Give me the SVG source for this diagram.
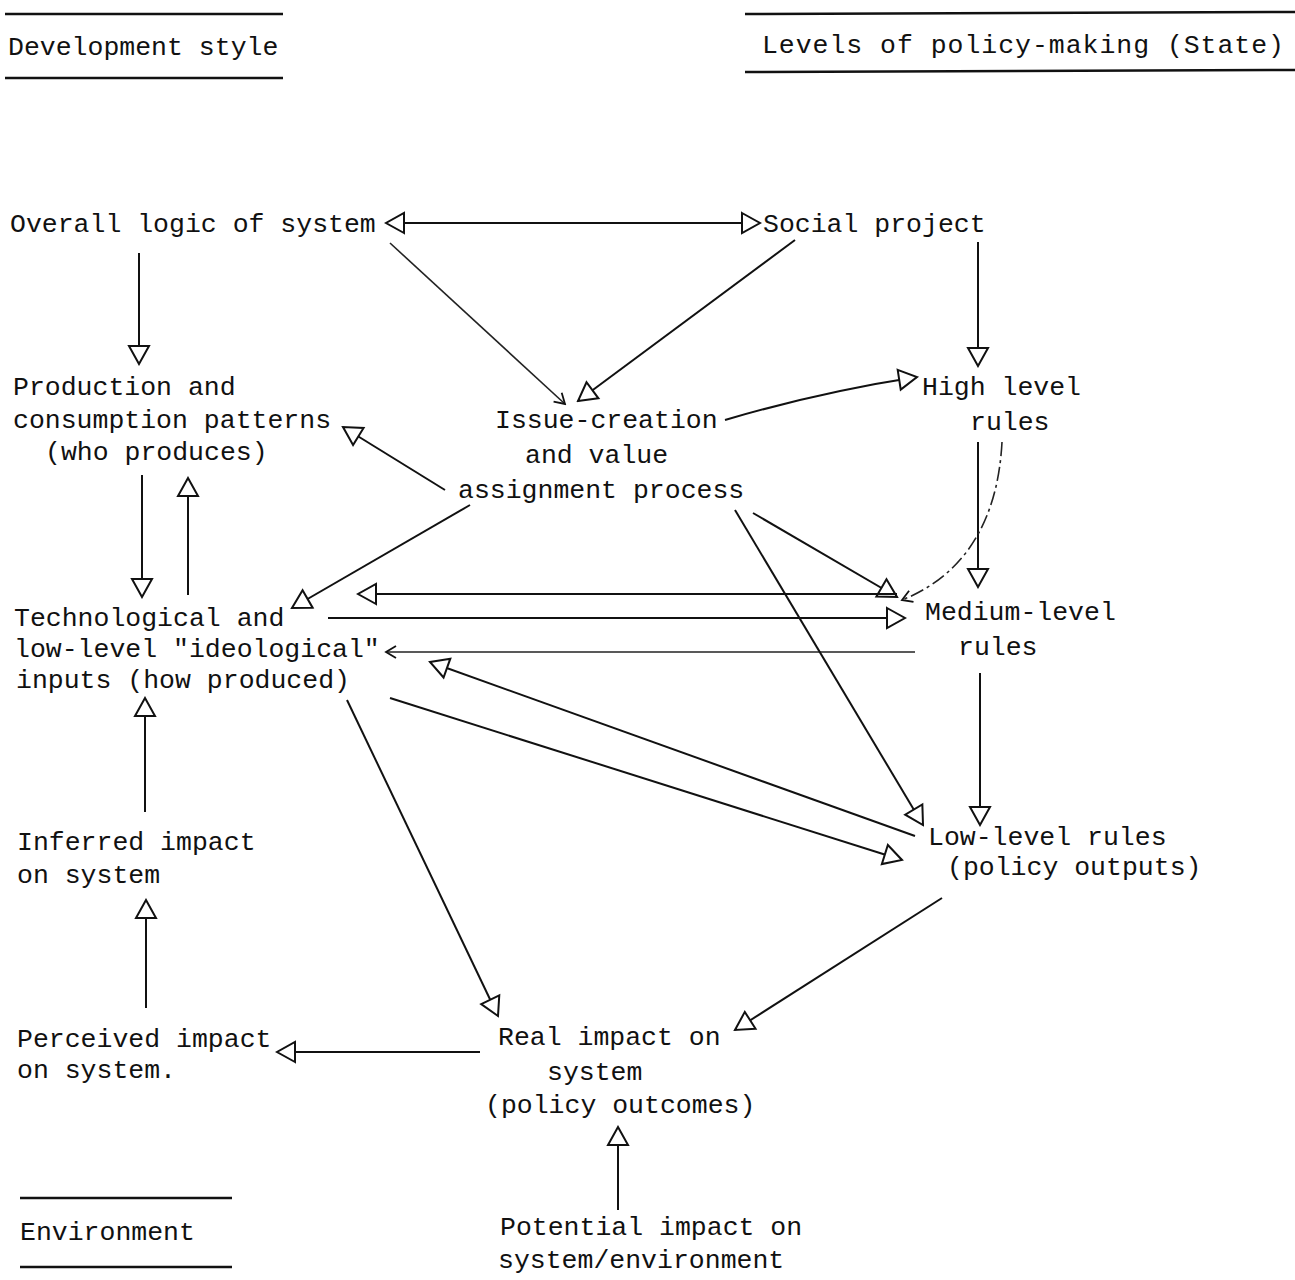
<svg xmlns="http://www.w3.org/2000/svg" width="1295" height="1280" viewBox="0 0 1295 1280">
<style>
text { font-family: "Liberation Mono", "Courier New", monospace; font-size: 26.5px; fill: #111; }
.rule { stroke: #111; stroke-width: 2.5; fill: none; }
.c { stroke: #111; stroke-width: 2; fill: none; marker-end: url(#tri); }
.thin { stroke: #222; stroke-width: 1.6; fill: none; }
.dash { stroke-dasharray: 14 4 3 4; }
</style>
<defs>
<marker id="tri" viewBox="0 0 22 24" refX="20" refY="12" markerWidth="22" markerHeight="24" markerUnits="userSpaceOnUse" orient="auto-start-reverse">
<path d="M2,2 L20,12 L2,22 Z" fill="#fff" stroke="#111" stroke-width="2"/>
</marker>
<marker id="vee" viewBox="0 0 14 14" refX="12" refY="7" markerWidth="14" markerHeight="14" markerUnits="userSpaceOnUse" orient="auto">
<path d="M2,1 L12,7 L2,13" fill="none" stroke="#111" stroke-width="1.8"/>
</marker>
</defs>
<rect width="1295" height="1280" fill="#fff"/>

<g id="heading-development">
<line class="rule" x1="5" y1="14" x2="283" y2="14"/>
<text x="8" y="55">Development style</text>
<line class="rule" x1="5" y1="78" x2="283" y2="78"/>
</g>
<g id="heading-levels">
<line class="rule" x1="745" y1="14" x2="1295" y2="12"/>
<text x="762" y="53" textLength="522" lengthAdjust="spacing">Levels of policy-making (State)</text>
<line class="rule" x1="745" y1="72" x2="1295" y2="70"/>
</g>
<g id="heading-environment">
<line class="rule" x1="20" y1="1198" x2="232" y2="1198"/>
<text x="20" y="1240">Environment</text>
<line class="rule" x1="20" y1="1267" x2="232" y2="1267"/>
</g>

<g id="node-overall"><text x="10" y="232">Overall logic of system</text></g>
<g id="node-social"><text x="763" y="232">Social project</text></g>
<g id="node-production">
<text x="13" y="395">Production and</text>
<text x="13" y="428">consumption patterns</text>
<text x="45" y="460">(who produces)</text>
</g>
<g id="node-issue">
<text x="495" y="428">Issue-creation</text>
<text x="525" y="463">and value</text>
<text x="458" y="498">assignment process</text>
</g>
<g id="node-high">
<text x="922" y="395">High level</text>
<text x="970" y="430">rules</text>
</g>
<g id="node-technological">
<text x="14" y="626">Technological and</text>
<text x="14" y="657">low-level "ideological"</text>
<text x="16" y="688">inputs (how produced)</text>
</g>
<g id="node-medium">
<text x="925" y="620">Medium-level</text>
<text x="958" y="655">rules</text>
</g>
<g id="node-inferred">
<text x="17" y="850">Inferred impact</text>
<text x="17" y="883">on system</text>
</g>
<g id="node-low">
<text x="928" y="845">Low-level rules</text>
<text x="947" y="875">(policy outputs)</text>
</g>
<g id="node-perceived">
<text x="17" y="1047">Perceived impact</text>
<text x="17" y="1078">on system.</text>
</g>
<g id="node-real">
<text x="498" y="1045">Real impact on</text>
<text x="547" y="1080">system</text>
<text x="485" y="1113">(policy outcomes)</text>
</g>
<g id="node-potential">
<text x="500" y="1235">Potential impact on</text>
<text x="498" y="1268">system/environment</text>
</g>

<g id="connectors">
<line class="c" x1="386" y1="223" x2="760" y2="223" marker-start="url(#tri)"/>
<line class="thin" x1="390" y1="243" x2="565" y2="404" marker-end="url(#vee)"/>
<line class="c" x1="795" y1="240" x2="578" y2="401"/>
<line class="c" x1="139" y1="253" x2="139" y2="364"/>
<line class="c" x1="978" y1="242" x2="978" y2="366"/>
<path class="c" d="M725,420 Q820,392 917,377"/>
<line class="c" x1="445" y1="490" x2="343" y2="427"/>
<line class="c" x1="470" y1="505" x2="292" y2="608"/>
<line class="c" x1="142" y1="475" x2="142" y2="597"/>
<line class="c" x1="188" y1="595" x2="188" y2="478"/>
<line class="c" x1="978" y1="442" x2="978" y2="587"/>
<path class="thin dash" d="M1002,442 C998,520 965,575 902,600" marker-end="url(#vee)"/>
<line class="c" x1="753" y1="513" x2="897" y2="597"/>
<line class="c" x1="897" y1="594" x2="358" y2="594"/>
<line class="c" x1="328" y1="618" x2="905" y2="618"/>
<line class="thin" x1="915" y1="652" x2="386" y2="652" marker-end="url(#vee)"/>
<line class="c" x1="915" y1="836" x2="430" y2="662"/>
<line class="c" x1="390" y1="698" x2="902" y2="860"/>
<line class="c" x1="735" y1="510" x2="923" y2="825"/>
<line class="c" x1="980" y1="673" x2="980" y2="825"/>
<line class="c" x1="347" y1="700" x2="498" y2="1016"/>
<line class="c" x1="942" y1="898" x2="735" y2="1030"/>
<line class="c" x1="480" y1="1052" x2="277" y2="1052"/>
<line class="c" x1="146" y1="1008" x2="146" y2="900"/>
<line class="c" x1="145" y1="812" x2="145" y2="698"/>
<line class="c" x1="618" y1="1210" x2="618" y2="1127"/>
</g>
</svg>
